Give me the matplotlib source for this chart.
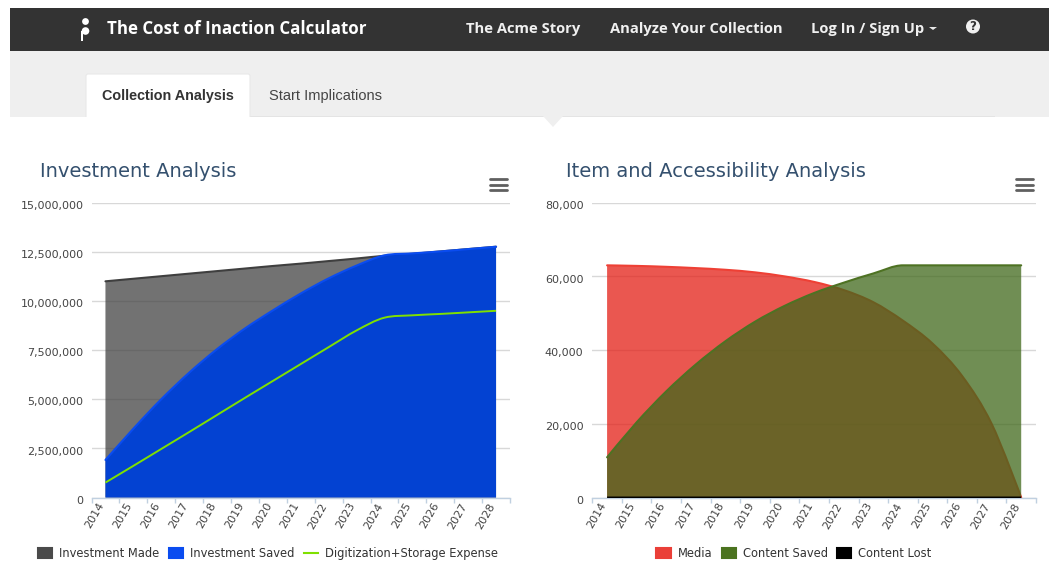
import matplotlib
matplotlib.use("Agg")
import matplotlib.pyplot as plt
from matplotlib.path import Path
from matplotlib.patches import PathPatch, Patch, Rectangle, Polygon, Circle, FancyBboxPatch
from matplotlib.lines import Line2D
from matplotlib.ticker import FuncFormatter
from matplotlib.transforms import ScaledTranslation

W, H = 1049, 563
years = [str(y) for y in range(2014, 2029)]

investment_made = [11.0e6, 11.13e6, 11.26e6, 11.39e6, 11.52e6, 11.65e6, 11.78e6, 11.9e6, 12.03e6, 12.16e6,
                   12.3e6, 12.4e6, 12.52e6, 12.64e6, 12.76e6]
investment_saved = [1.91e6, 3.5e6, 5.0e6, 6.35e6, 7.55e6, 8.6e6, 9.52e6, 10.38e6, 11.15e6, 11.8e6,
                    12.32e6, 12.42e6, 12.52e6, 12.64e6, 12.76e6]
digitization = [0.76e6, 1.61e6, 2.47e6, 3.33e6, 4.2e6, 5.07e6, 5.93e6, 6.79e6, 7.65e6, 8.5e6,
                9.15e6, 9.27e6, 9.34e6, 9.42e6, 9.5e6]
media = [63000, 62850, 62600, 62250, 61800, 61100, 60000, 58500, 56300, 53000,
         48000, 41800, 33000, 20000, 0]
content_saved = [10900, 20400, 28800, 36100, 42400, 47700, 52000, 55500, 58300, 60800,
                 63000, 63000, 63000, 63000, 63000]
content_lost = [0] * 15

left_ticks = [0, 2500000, 5000000, 7500000, 10000000, 12500000, 15000000]
right_ticks = [0, 20000, 40000, 60000, 80000]


def spline(ys):
    """Smooth Bezier spline through the points (x = category index), no overshoot."""
    n = len(ys)
    verts = [(0.0, ys[0])]
    codes = [Path.MOVETO]
    ctrl = []
    for i in range(n):
        if i == 0 or i == n - 1:
            ctrl.append(((float(i), ys[i]), (float(i), ys[i])))
            continue
        yp, y, yn = ys[i - 1], ys[i], ys[i + 1]
        h = (yn - yp) / 6.0
        if (y - yp) * (yn - y) <= 0:
            h = 0.0
        else:
            lim = min(abs(y - yp), abs(yn - y))
            h = max(-lim, min(lim, h))
        ctrl.append(((i - 1 / 3, y - h), (i + 1 / 3, y + h)))
    for i in range(1, n):
        verts += [ctrl[i - 1][1], ctrl[i][0], (float(i), ys[i])]
        codes += [Path.CURVE4] * 3
    return verts, codes


def area(ax, ys, fill, line, alpha=0.75, lw=1.5, z=2):
    v, c = spline(ys)
    av = v + [(len(ys) - 1.0, 0.0), (0.0, 0.0), v[0]]
    ac = c + [Path.LINETO, Path.LINETO, Path.CLOSEPOLY]
    ax.add_patch(PathPatch(Path(av, ac), facecolor=fill, edgecolor="none", alpha=alpha, zorder=z))
    ax.add_patch(PathPatch(Path(v, c), facecolor="none", edgecolor=line, lw=lw, zorder=z + 0.1,
                           capstyle="round"))


def line_only(ax, ys, color, lw=1.5, z=6):
    v, c = spline(ys)
    ax.add_patch(PathPatch(Path(v, c), facecolor="none", edgecolor=color, lw=lw, zorder=z))


fig = plt.figure(figsize=(W / 100, H / 100), dpi=100)
fig.patch.set_facecolor("white")
plt.rcParams["font.family"] = ["DejaVu Sans"]

# page furniture, in pixel coordinates
bg = fig.add_axes([0, 0, 1, 1], zorder=0)
bg.set_xlim(0, W)
bg.set_ylim(H, 0)
bg.axis("off")
bg.add_patch(Rectangle((10, 8), W - 10, 43, color="#333333", lw=0))
bg.add_patch(Rectangle((10, 51), W - 10, 65.5, color="#efefef", lw=0))
bg.add_patch(Rectangle((250, 115.5), 745, 1.2, color="#e4e4e4", lw=0))
bg.add_patch(FancyBboxPatch((86, 74), 164, 60, boxstyle="round,pad=0,rounding_size=2",
                            facecolor="white", edgecolor="#e8e8e8", lw=0.8))
bg.add_patch(Rectangle((80, 117), 180, 30, color="white", lw=0, zorder=3))
bg.add_patch(Polygon([(543, 116), (563, 116), (553, 127)], color="#efefef", lw=0))

# logo
bg.add_patch(Circle((85.5, 21.5), 3.4, color="white", lw=0))
bg.add_patch(Circle((85.5, 31), 3.8, color="white", lw=0))
bg.add_patch(Rectangle((81.3, 31), 1.4, 9.5, color="white", lw=0))

ofam = ["Open Sans", "DejaVu Sans"]
bg.text(107, 28.5, "The Cost of Inaction Calculator", fontsize=12.2, color="white", fontweight="bold",
        va="center", family=ofam)
for xpos, label in [(466.5, "The Acme Story"), (610, "Analyze Your Collection"), (811, "Log In / Sign Up")]:
    bg.text(xpos, 28.5, label, fontsize=10.6, color="#f0f0f0", fontweight="bold", va="center", family=ofam)
bg.add_patch(Polygon([(929, 27), (937, 27), (933, 30)], color="#e8e8e8", lw=0))
bg.add_patch(Circle((973, 26.5), 7, color="#f0f0f0", lw=0))
bg.text(973, 26.8, "?", fontsize=8.5, color="#333333", fontweight="bold", ha="center", va="center")

bg.text(168, 95.7, "Collection Analysis", fontsize=10.4, color="#333333", fontweight="bold", ha="center",
        va="center", family=["Liberation Sans"], zorder=4)
bg.text(325.5, 95.7, "Start Implications", fontsize=10.5, color="#444444", ha="center", va="center",
        family=["Liberation Sans"])

bg.text(40, 171.5, "Investment Analysis", fontsize=14, color="#34506e", va="center")
bg.text(566, 171.5, "Item and Accessibility Analysis", fontsize=14, color="#34506e", va="center")

for x0 in (489.5, 1016):
    for yy in (179, 184.5, 190):
        bg.add_line(Line2D([x0, x0 + 17], [yy, yy], color="#606060", lw=2.0, solid_capstyle="round"))


def make_axes(x0, x1, ytop, ybot, ymax, ticks, lab_right):
    ax = fig.add_axes([x0 / W, 1 - ybot / H, (x1 - x0) / W, (ybot - ytop) / H], zorder=2)
    ax.patch.set_alpha(0)
    ax.set_xlim(-0.5, 14.5)
    ax.set_ylim(0, ymax)
    for s in ("top", "right", "left"):
        ax.spines[s].set_visible(False)
    ax.spines["bottom"].set_color("#c0d0e0")
    ax.spines["bottom"].set_linewidth(1)
    ax.set_yticks(ticks)
    ax.yaxis.set_major_formatter(FuncFormatter(lambda v, _: f"{int(v):,}"))
    ax.tick_params(axis="y", length=0, pad=(x0 - lab_right) * 0.72, labelsize=8.0, labelcolor="#444444")
    ax.grid(axis="y", color="#d8d8d8", lw=1, zorder=1)
    ax.set_axisbelow(True)
    ax.set_xticks(range(15))
    ax.set_xticklabels(years, rotation=60, ha="right", rotation_mode="anchor", fontsize=8.0, color="#444444")
    ax.set_xticks([i - 0.5 for i in range(16)], minor=True)
    ax.tick_params(axis="x", which="major", length=0, pad=2.5)
    ax.tick_params(axis="x", which="minor", length=3.6, width=1, color="#c0d0e0")
    off = ScaledTranslation(-8 / 100, 0, fig.dpi_scale_trans)
    for t in ax.get_xticklabels():
        t.set_transform(t.get_transform() + off)
    off_y = ScaledTranslation(0, -2.2 / 100, fig.dpi_scale_trans)
    for t in ax.get_yticklabels():
        t.set_transform(t.get_transform() + off_y)
    return ax


# left chart
ax1 = make_axes(91.5, 510, 202.7, 497.5, 15000000, left_ticks, 83.5)
area(ax1, investment_made, "#434343", "#3f3f3f", alpha=0.75, z=2)
area(ax1, investment_saved, "#0041d6", "#0a4cf0", alpha=0.97, z=3)
line_only(ax1, digitization, "#7fe000", lw=1.4)
h1 = [Patch(facecolor="#4a4a4a", edgecolor="#4a4a4a", lw=1.5, joinstyle="round", label="Investment Made"),
      Patch(facecolor="#0a4cf0", edgecolor="#0a4cf0", lw=1.5, joinstyle="round", label="Investment Saved"),
      Line2D([], [], color="#7fe000", lw=1.5, label="Digitization+Storage Expense")]
legkw = dict(loc="center", ncol=3, frameon=False, fontsize=8.3, labelcolor="#333333",
             handlelength=1.25, handleheight=1.0, handletextpad=0.6, columnspacing=0.8,
             bbox_transform=bg.transData)
ax1.legend(handles=h1, bbox_to_anchor=(268, 553.7), **legkw)

# right chart
ax2 = make_axes(592.3, 1036, 202.7, 497.5, 80000, right_ticks, 583.5)
area(ax2, media, "#e41f16", "#ee4035", alpha=0.75, lw=1.5, z=2)
area(ax2, content_saved, "#40681b", "#4e7223", alpha=0.75, lw=1.5, z=3)
v, c = spline(content_lost)
ax2.add_patch(PathPatch(Path(v, c), facecolor="none", edgecolor="black", lw=1.4, zorder=5))
h2 = [Patch(facecolor="#ea3f38", edgecolor="#ea3f38", lw=1.5, joinstyle="round", label="Media"),
      Patch(facecolor="#4b731f", edgecolor="#4b731f", lw=1.5, joinstyle="round", label="Content Saved"),
      Patch(facecolor="black", edgecolor="black", lw=1.5, joinstyle="round", label="Content Lost")]
ax2.legend(handles=h2, bbox_to_anchor=(794, 553.7), **legkw)

fig.savefig("out.png", dpi=100)
